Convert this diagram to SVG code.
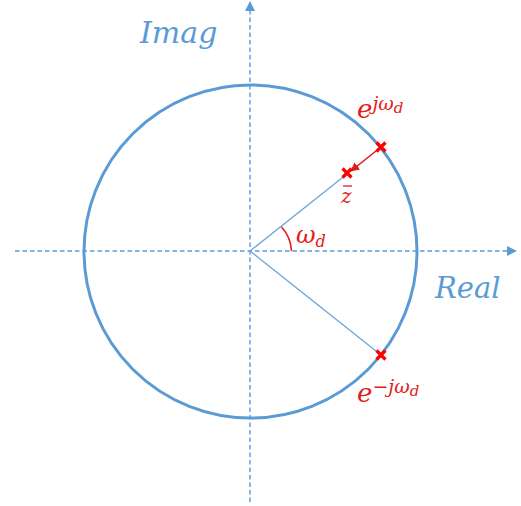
<svg xmlns="http://www.w3.org/2000/svg" width="521" height="506" viewBox="0 0 521 506">
<defs>
<style>
.axis{stroke:#5B9BD5;stroke-width:1.4;stroke-dasharray:4.5 3;fill:none}
.lbl{font-family:"DejaVu Serif","Liberation Serif",serif;font-style:italic;fill:#5B9BD5}
.red{font-family:"DejaVu Serif","Liberation Serif",serif;font-style:italic;fill:#E31B1B}
.ray{stroke:#6BA3DA;stroke-width:1.3;fill:none}
.x{stroke:#FF0000;stroke-width:3.2}
</style>
<marker id="ah" viewBox="0 0 10 10" refX="9" refY="5" markerWidth="11" markerHeight="10" markerUnits="userSpaceOnUse" orient="auto"><path d="M0,0 L10,5 L0,10 z" fill="#5B9BD5"/></marker>
<marker id="rh" viewBox="0 0 10 10" refX="9" refY="5" markerWidth="9" markerHeight="9" markerUnits="userSpaceOnUse" orient="auto"><path d="M0,0 L10,5 L0,10 z" fill="#E31B1B"/></marker>
</defs>
<g id="axes">
<line class="axis" x1="250" y1="502" x2="250" y2="2" marker-end="url(#ah)"/>
<line class="axis" x1="15" y1="251" x2="516" y2="251" marker-end="url(#ah)"/>
</g>
<g id="circle"><circle cx="250.5" cy="251.5" r="166.5" fill="none" stroke="#5B9BD5" stroke-width="3"/></g>
<g id="connectors">
<line class="ray" x1="250" y1="251" x2="347" y2="174"/>
<line class="ray" x1="250" y1="251" x2="381" y2="355"/>
<line x1="381" y1="147" x2="351" y2="171" stroke="#E31B1B" stroke-width="1.6" marker-end="url(#rh)"/>
<path d="M281.5,227 A38,38 0 0 1 291.5,251" fill="none" stroke="#E31B1B" stroke-width="1.6"/>
</g>
<g id="points">
<path class="x" d="M376.5,142.5 l9,9 M385.5,142.5 l-9,9"/>
<path class="x" d="M342.5,168.5 l9,9 M351.5,168.5 l-9,9"/>
<path class="x" d="M376.5,350.5 l9,9 M385.5,350.5 l-9,9"/>
</g>
<g id="labels">
<text class="lbl" x="140" y="43" font-size="30">Imag</text>
<text class="lbl" x="435" y="298" font-size="29">Real</text>
<text class="red" x="357" y="118" font-size="26">e<tspan font-size="19" dy="-8">jω</tspan><tspan font-size="15" dy="3">d</tspan></text>
<text class="red" x="357" y="402" font-size="26">e<tspan font-size="19" dy="-9">−jω</tspan><tspan font-size="15" dy="3">d</tspan></text>
<text class="red" x="341" y="203" font-size="20">z</text>
<line x1="343" y1="186" x2="352" y2="186" stroke="#E31B1B" stroke-width="1.3"/>
<text class="red" x="296" y="243" font-size="24">ω<tspan font-size="16" dy="4">d</tspan></text>
</g>
</svg>
